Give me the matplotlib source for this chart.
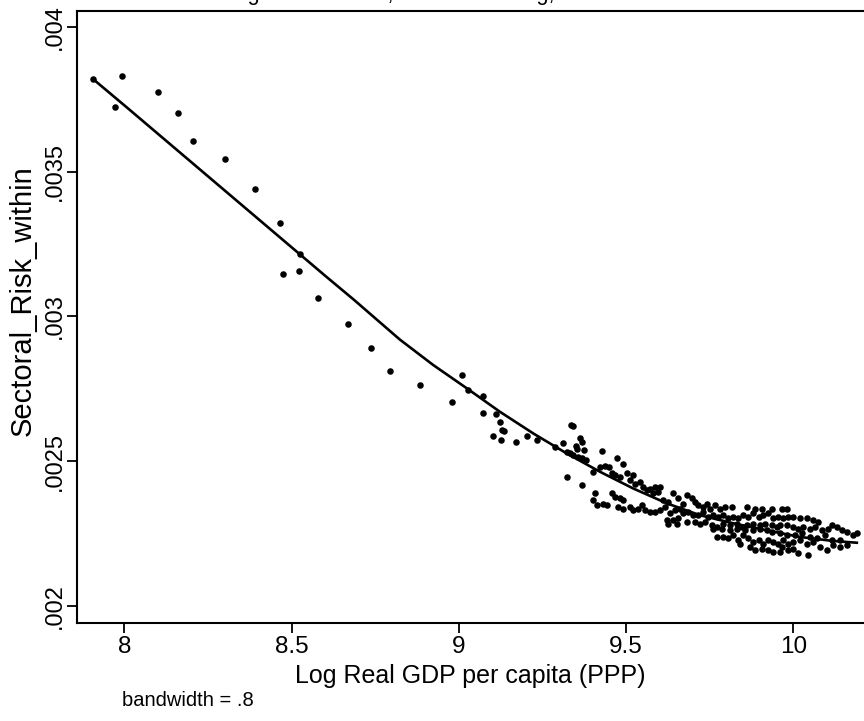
import numpy as np
import matplotlib.pyplot as plt

plt.rcParams['font.family'] = ['Liberation Sans', 'DejaVu Sans']

# low income tail (few countries)
gdp_low = [7.907, 7.994, 7.972, 8.102, 8.161, 8.204, 8.300, 8.390, 8.465, 8.525,
           8.475, 8.521, 8.578, 8.670, 8.738, 8.794]
risk_low = [0.003819, 0.003830, 0.003724, 0.003776, 0.003702, 0.003605, 0.003542, 0.003440,
            0.003322, 0.003214, 0.003146, 0.003157, 0.003064, 0.002974, 0.002890, 0.002811]

# middle range
gdp_mid = [8.884, 8.981, 9.009, 9.029, 9.073, 9.073, 9.111, 9.123, 9.101, 9.128,
           9.135, 9.126, 9.170, 9.205, 9.233, 9.288, 9.311, 9.323, 9.334, 9.342,
           9.349, 9.352, 9.362, 9.367, 9.333, 9.342, 9.357, 9.323]
risk_mid = [0.002763, 0.002705, 0.002798, 0.002746, 0.002725, 0.002667, 0.002663, 0.002636,
            0.002587, 0.002608, 0.002605, 0.002575, 0.002566, 0.002588, 0.002575, 0.002549,
            0.002562, 0.002447, 0.002625, 0.002623, 0.002554, 0.002544, 0.002581, 0.002567,
            0.002527, 0.002521, 0.002515, 0.002533]

# dense cluster of richer countries
gdp_high = [
    9.374, 9.427, 9.367, 9.380, 9.474, 9.492, 9.402, 9.422, 9.437, 9.450,
    9.457, 9.467, 9.482, 9.502, 9.522, 9.512, 9.527, 9.542, 9.552, 9.562,
    9.572, 9.587, 9.602, 9.597, 9.582, 9.367, 9.407, 9.402, 9.412, 9.432,
    9.442, 9.457, 9.467, 9.482, 9.492, 9.477, 9.492, 9.512, 9.522, 9.537,
    9.547, 9.557, 9.572, 9.587, 9.602, 9.616, 9.611, 9.626, 9.641, 9.656,
    9.671, 9.681, 9.696, 9.706, 9.716, 9.731, 9.741, 9.751, 9.766, 9.781,
    9.796, 9.816, 9.861, 9.886, 9.905, 9.935, 9.965, 9.980, 9.631, 9.646,
    9.661, 9.671, 9.686, 9.701, 9.716, 9.731, 9.746, 9.761, 9.776, 9.791,
    9.806, 9.821, 9.836, 9.851, 9.866, 9.881, 9.896, 9.910, 9.925, 9.940,
    9.955, 9.970, 9.985, 10.000, 10.020, 10.040, 10.060, 10.075, 10.115, 10.130,
    10.145, 10.160, 10.180, 10.189, 9.621, 9.641, 9.656, 9.681, 9.706, 9.721,
    9.736, 9.756, 9.771, 9.791, 9.811, 9.831, 9.846, 9.861, 9.881, 9.901,
    9.915, 9.935, 9.950, 9.960, 9.980, 10.000, 10.015, 10.030, 10.050, 10.065,
    10.085, 10.105, 9.626, 9.651, 9.761, 9.786, 9.811, 9.831, 9.856, 9.881,
    9.901, 9.920, 9.935, 9.960, 9.980, 10.005, 10.025, 10.050, 10.070, 10.095,
    10.115, 10.140, 10.160, 9.771, 9.791, 9.806, 9.821, 9.836, 9.851, 9.866,
    9.881, 9.896, 9.910, 9.925, 9.940, 9.955, 9.970, 9.985, 10.000, 10.020,
    10.040, 10.060, 10.080, 10.100, 10.120, 10.140, 9.841, 9.871, 9.886, 9.905,
    9.925, 9.940, 9.960, 9.985, 10.015, 10.045, 9.965, 10.000]
risk_high = [
    0.002539, 0.002535, 0.002510, 0.002504, 0.002510, 0.002490, 0.002464, 0.002481, 0.002483, 0.002479,
    0.002458, 0.002452, 0.002447, 0.002458, 0.002452, 0.002435, 0.002423, 0.002429, 0.002412, 0.002400,
    0.002406, 0.002412, 0.002412, 0.002395, 0.002389, 0.002418, 0.002389, 0.002366, 0.002349, 0.002354,
    0.002349, 0.002389, 0.002377, 0.002372, 0.002366, 0.002343, 0.002337, 0.002343, 0.002331, 0.002337,
    0.002349, 0.002331, 0.002326, 0.002326, 0.002331, 0.002343, 0.002366, 0.002360, 0.002389, 0.002372,
    0.002354, 0.002383, 0.002372, 0.002360, 0.002349, 0.002343, 0.002354, 0.002337, 0.002349, 0.002337,
    0.002343, 0.002343, 0.002343, 0.002337, 0.002337, 0.002337, 0.002337, 0.002337, 0.002320, 0.002331,
    0.002337, 0.002320, 0.002326, 0.002314, 0.002314, 0.002326, 0.002308, 0.002314, 0.002308, 0.002314,
    0.002303, 0.002308, 0.002303, 0.002314, 0.002308, 0.002320, 0.002308, 0.002314, 0.002320, 0.002303,
    0.002308, 0.002303, 0.002308, 0.002308, 0.002303, 0.002303, 0.002297, 0.002291, 0.002280, 0.002274,
    0.002262, 0.002257, 0.002245, 0.002251, 0.002297, 0.002297, 0.002303, 0.002291, 0.002291, 0.002285,
    0.002291, 0.002280, 0.002274, 0.002285, 0.002280, 0.002285, 0.002274, 0.002280, 0.002285, 0.002280,
    0.002285, 0.002280, 0.002274, 0.002280, 0.002280, 0.002274, 0.002268, 0.002274, 0.002268, 0.002274,
    0.002262, 0.002268, 0.002285, 0.002285, 0.002268, 0.002268, 0.002262, 0.002268, 0.002262, 0.002262,
    0.002268, 0.002262, 0.002257, 0.002251, 0.002245, 0.002245, 0.002251, 0.002239, 0.002234, 0.002245,
    0.002228, 0.002228, 0.002211, 0.002239, 0.002239, 0.002234, 0.002245, 0.002228, 0.002245, 0.002234,
    0.002222, 0.002228, 0.002216, 0.002228, 0.002222, 0.002216, 0.002228, 0.002216, 0.002222, 0.002228,
    0.002216, 0.002222, 0.002205, 0.002193, 0.002211, 0.002205, 0.002216, 0.002205, 0.002193, 0.002199,
    0.002193, 0.002188, 0.002188, 0.002193, 0.002182, 0.002176, 0.002205, 0.002199]

# lowess fit, bandwidth .8
fit_gdp = [7.907, 8.007, 8.107, 8.206, 8.306, 8.406, 8.505, 8.605, 8.685, 8.744,
           8.824, 8.924, 9.024, 9.123, 9.223, 9.323, 9.422, 9.522, 9.622,
           9.721, 9.821, 9.920, 10.020, 10.120, 10.190]
fit_risk = [0.003819, 0.003722, 0.003624, 0.003527, 0.003429, 0.003331, 0.003234, 0.003136,
            0.003059, 0.003000, 0.002920, 0.002832, 0.002752, 0.002671, 0.002596,
            0.002527, 0.002464, 0.002406, 0.002355, 0.002314, 0.002286, 0.002262, 0.002239,
            0.002225, 0.002219]

xticks = [8, 8.5, 9, 9.5, 10]
xticklabels = ['8', '8.5', '9', '9.5', '10']
yticks = [0.002, 0.0025, 0.003, 0.0035, 0.004]
yticklabels = ['.002', '.0025', '.003', '.0035', '.004']

W, H = 864, 721
fig = plt.figure(figsize=(W / 100, H / 100), dpi=100)
ax = fig.add_axes([77.3 / W, (H - 622.5) / H, 1 - 77.3 / W, (622.5 - 11.3) / H])

ax.plot(gdp_low + gdp_mid + gdp_high, risk_low + risk_mid + risk_high, 'o',
        color='black', markersize=4.7, markeredgewidth=0, clip_on=False)
ax.plot(fit_gdp, fit_risk, '-', color='black', lw=1.9)

ax.set_xlim(7.8595, 10.2114)
ax.set_ylim(0.0019437, 0.0040532)
ax.set_xticks(xticks)
ax.set_xticklabels(xticklabels, fontsize=17.5)
ax.set_yticks(yticks)
ax.set_yticklabels(yticklabels, fontsize=17, rotation=90, va='center')
ax.tick_params(length=7, width=1.3, color='black')
ax.tick_params(axis='x', pad=3)
ax.tick_params(axis='y', pad=1)
ax.spines['right'].set_visible(False)
for s in ['left', 'top', 'bottom']:
    ax.spines[s].set_linewidth(1.5)

ax.set_xlabel('Log Real GDP per capita (PPP)', fontsize=18, labelpad=4)
ax.set_ylabel('Sectoral_Risk_within', fontsize=21, labelpad=2)
ax.yaxis.set_label_coords(-0.052, (622.5 - 301) / (622.5 - 11.3))

fig.text(82 / W, 1.0, 'Lowess smoothing of sector risk, local smoothing, all countries',
         fontsize=15.5, va='baseline', ha='left')
fig.text(122 / W, (H - 700) / H, 'bandwidth = .8', fontsize=14.5, va='center', ha='left')

fig.savefig('out.png', dpi=100, facecolor='white')
